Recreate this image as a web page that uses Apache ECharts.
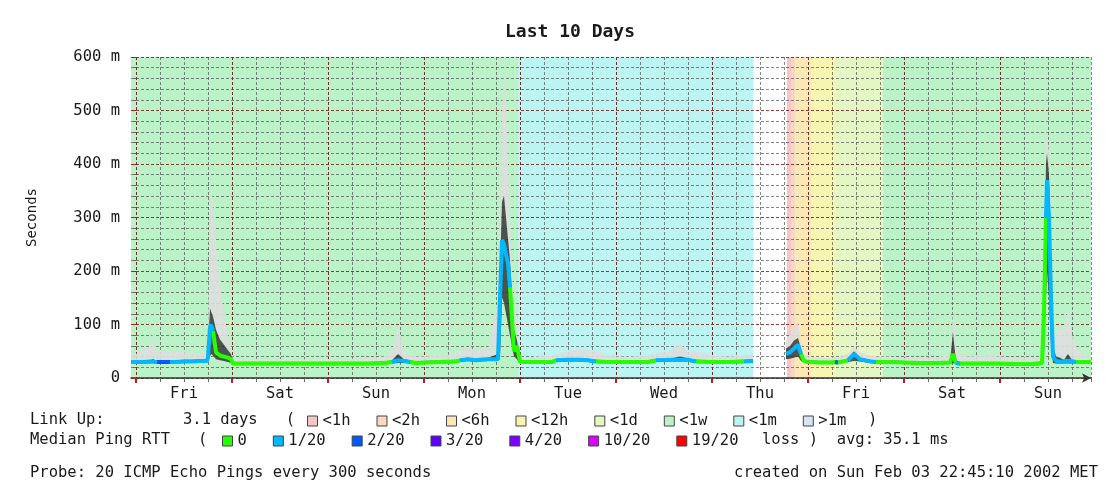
<!DOCTYPE html>
<html>
<head>
<meta charset="utf-8">
<title>Last 10 Days</title>
<script src="https://cdn.jsdelivr.net/npm/echarts@6/dist/echarts.min.js"></script>
<style>
  html, body { margin: 0; padding: 0; background: #fff; }
  #chart { width: 1106px; height: 490px; }
</style>
</head>
<body>
<div id="chart"></div>
<script>
// time in hours, 0 = midnight at the start of the first Friday
var startHour = -1.25;
var endHour = 238.75;
var dayNames = ['Fri', 'Sat', 'Sun', 'Mon', 'Tue', 'Wed', 'Thu', 'Fri', 'Sat', 'Sun'];

var hours = [
  -1.25, 0, 2, 4, 4.25, 4.75, 5.25, 8.5, 10, 12,
  14, 16, 17.75, 18, 18.5, 18.75, 19.25, 20, 21, 22,
  23, 23.75, 24.25, 26, 30, 34, 38, 42, 46, 50,
  54, 58, 62, 64, 65.5, 67, 68.5, 70, 72, 76,
  80, 81, 83, 85, 86, 88, 90.5, 91, 91.5, 92,
  92.5, 93, 93.5, 94, 94.5, 95.25, 96, 97, 100, 104,
  105, 108, 111, 113, 115, 118, 120, 124, 128, 130,
  134, 136, 138, 140, 144, 148, 152, 154.25, 154.5, 162.5,
  163.5, 164.5, 165.5, 166.25, 167, 168, 171, 174, 174.75, 175.5,
  178, 179.5, 181, 183.5, 185, 188, 192, 196, 200, 203.5,
  204.25, 205, 206, 208, 212, 216, 220, 224, 226.5, 227,
  227.5, 227.75, 228.25, 228.75, 229.25, 230, 231, 232, 233, 234,
  235, 236.5, 238.75
];
// median ping RTT in ms
var medianMs = [
  30, 30, 30, 31, 31, 30, 30, 30, 30, 31,
  31, 32, 32, 40, 95, 100, 88, 48, 42, 40,
  38, 35, 27, 27, 27, 27, 27, 27, 27, 27,
  27, 27, 28, 30, 33, 32, 30, 28, 29, 30,
  31, 33, 35, 33, 34, 35, 35, 150, 258, 250,
  230, 215, 170, 110, 50, 60, 30, 30, 30, 30,
  33, 34, 34, 33, 31, 30, 30, 30, 30, 33,
  34, 34, 34, 31, 30, 30, 31, 32, null, 45,
  48, 55, 62, 45, 32, 30, 29, 29, 30, 29,
  33, 45, 35, 31, 30, 30, 29, 28, 28, 29,
  45, 28, 27, 27, 27, 27, 26, 26, 28, 127,
  300, 370, 300, 150, 40, 32, 30, 31, 32, 31,
  30, 30, 30
];
// lost pings out of 20
var lossOf20 = [
  1, 1, 1, 1, 1, 1, 2, 1, 1, 1,
  1, 1, 1, 1, 1, 1, 0, 0, 0, 0,
  0, 0, 0, 0, 0, 0, 0, 0, 0, 0,
  0, 0, 0, 1, 1, 1, 0, 0, 0, 0,
  0, 1, 1, 0, 1, 1, 1, 1, 1, 1,
  1, 1, 0, 0, 0, 0, 0, 0, 0, 0,
  1, 1, 1, 1, 0, 0, 0, 0, 0, 1,
  1, 1, 1, 0, 0, 0, 1, 1, null, 1,
  1, 1, 1, 0, 0, 0, 0, 0, 2, 0,
  1, 1, 1, 1, 0, 0, 0, 0, 0, 0,
  0, 1, 0, 0, 0, 0, 0, 0, 0, 0,
  1, 1, 1, 1, 1, 1, 0, 1, 0, 1,
  0, 0, 0
];
// smoke: fastest ping, upper quartile, slowest ping (ms)
var smokeLow = [
  27, 27, 27, 28, 28, 27, 27, 27, 27, 28,
  28, 29, 29, 30, 40, 45, 42, 35, 33, 32,
  30, 28, 24, 24, 24, 24, 24, 24, 24, 24,
  24, 24, 25, 27, 28, 28, 27, 25, 26, 27,
  28, 30, 32, 30, 31, 32, 32, 40, 150, 140,
  120, 100, 80, 60, 40, 35, 27, 27, 27, 27,
  30, 31, 31, 30, 28, 27, 27, 27, 27, 30,
  31, 31, 31, 28, 27, 27, 28, 29, null, 35,
  36, 38, 40, 32, 29, 27, 26, 26, 27, 26,
  30, 32, 31, 28, 27, 27, 26, 25, 25, 26,
  28, 25, 24, 24, 24, 24, 23, 23, 25, 40,
  150, 200, 150, 60, 28, 27, 26, 27, 27, 27,
  27, 27, 27
];
var smokeMid = [
  33, 33, 33, 34, 36, 33, 33, 33, 33, 34,
  34, 35, 35, 60, 130, 125, 115, 90, 72, 62,
  52, 45, 30, 30, 30, 30, 30, 30, 30, 30,
  30, 30, 31, 33, 45, 35, 33, 31, 32, 33,
  34, 36, 38, 36, 37, 38, 45, 200, 330, 340,
  300, 260, 220, 150, 90, 70, 33, 33, 33, 33,
  36, 37, 37, 36, 34, 33, 33, 33, 33, 36,
  37, 40, 37, 34, 33, 33, 34, 35, null, 55,
  60, 70, 75, 55, 35, 33, 32, 32, 33, 32,
  36, 50, 38, 34, 33, 33, 32, 31, 31, 32,
  85, 31, 30, 30, 30, 30, 29, 29, 31, 200,
  400, 420, 380, 250, 60, 40, 38, 34, 45, 34,
  33, 33, 33
];
var smokeHigh = [
  42, 45, 55, 60, 100, 55, 50, 48, 50, 48,
  46, 45, 50, 90, 300, 360, 330, 250, 180, 120,
  80, 50, 36, 35, 36, 35, 36, 35, 36, 35,
  36, 38, 40, 50, 100, 50, 42, 40, 40, 42,
  45, 50, 58, 52, 55, 52, 150, 300, 500, 570,
  520, 400, 300, 200, 110, 75, 42, 38, 40, 42,
  45, 50, 55, 52, 50, 42, 40, 40, 42, 45,
  52, 65, 48, 50, 42, 40, 42, 42, null, 70,
  80, 95, 105, 65, 45, 40, 38, 38, 40, 38,
  45, 58, 48, 42, 40, 40, 38, 38, 38, 45,
  125, 60, 45, 40, 42, 40, 38, 38, 40, 260,
  440, 464, 420, 300, 90, 80, 100, 85, 130, 80,
  60, 45, 40
];

// uptime background classes
var uptimeNames = ['<1h', '<2h', '<6h', '<12h', '<1d', '<1w', '<1m', '>1m'];
var uptimeColors = ['#f5c6c6', '#f8d8c0', '#fae9b4', '#f7f5b2', '#e3f6c3', '#bbf2c8', '#bbf4f0', '#d6e4f4'];
var uptimeFrom = { '<1w': [-1.25, 186.75], '<1m': [95.5], '<1h': [162.75], '<2h': [163.75], '<6h': [164.75], '<12h': [168.75], '<1d': [174.75] };
var uptimeTo = { '<1w': [95.5, 238.75], '<1m': [154.25], '<1h': [163.75], '<2h': [164.75], '<6h': [168.75], '<12h': [174.75], '<1d': [186.75] };

// median line colours by loss
var lossNames = ['0', '1/20', '2/20', '3/20', '4/20', '10/20', '19/20'];
var lossSteps = [0, 1, 2, 3, 4, 10, 19];
var lossColors = ['#26ff00', '#00b8ff', '#0059ff', '#5e00ff', '#7e00ff', '#dd00ff', '#ff0000'];

var FONT = 'DejaVu Sans Mono';
var gridLeft = 131, gridTop = 57;

var sixHours = [], midnights = [], noons = [];
for (var d = 0; d < dayNames.length; d++) {
  midnights.push(d * 24);
  noons.push(d * 24 + 12);
  for (var q = 0; q < 4; q++) sixHours.push(d * 24 + q * 6);
}
sixHours.push(endHour);

var series = [];

uptimeNames.forEach(function (name, i) {
  var areas = (uptimeFrom[name] || []).map(function (s, k) {
    return [{ xAxis: s }, { xAxis: uptimeTo[name][k] }];
  });
  series.push({
    name: name,
    type: 'line',
    data: [],
    z: 0,
    silent: true,
    itemStyle: { color: uptimeColors[i] },
    lineStyle: { color: uptimeColors[i] },
    markArea: { silent: true, z: 0, itemStyle: { color: uptimeColors[i] }, data: areas }
  });
});

// smoke: one quad per interval between samples
var smokeRows = [];
for (var i = 0; i < hours.length - 1; i++) {
  var row = [hours[i], hours[i + 1], smokeLow[i], smokeLow[i + 1], smokeMid[i], smokeMid[i + 1], smokeHigh[i], smokeHigh[i + 1]];
  if (row.every(function (v) { return v != null; })) smokeRows.push(row);
}

series.push({
  type: 'custom',
  silent: true,
  z: 2,
  data: smokeRows,
  encode: { x: [0, 1], y: [2, 3, 4, 5, 6, 7] },
  renderItem: function (params, api) {
    var x0 = api.value(0), x1 = api.value(1);
    var dark = [api.coord([x0, api.value(2)]), api.coord([x1, api.value(3)]), api.coord([x1, api.value(5)]), api.coord([x0, api.value(4)])];
    var light = [api.coord([x0, api.value(4)]), api.coord([x1, api.value(5)]), api.coord([x1, api.value(7)]), api.coord([x0, api.value(6)])];
    return {
      type: 'group',
      children: [
        { type: 'polygon', shape: { points: light }, style: { fill: 'rgba(222,222,222,0.9)' } },
        { type: 'polygon', shape: { points: dark }, style: { fill: 'rgba(45,45,45,0.8)' } }
      ]
    };
  }
});

lossNames.forEach(function (name, k) {
  var step = lossSteps[k];
  var data = hours.map(function (h, i) {
    if (medianMs[i] == null) return [h, null];
    var on = lossOf20[i] === step || (i > 0 && lossOf20[i - 1] === step && medianMs[i - 1] != null);
    return [h, on ? medianMs[i] : null];
  });
  series.push({
    name: name,
    type: 'line',
    data: data,
    showSymbol: false,
    silent: true,
    z: 3,
    itemStyle: { color: lossColors[k] },
    lineStyle: { color: lossColors[k], width: 4 }
  });
});

var minorGrid = { color: 'rgba(70,70,70,0.65)', type: [3, 2], width: 1 };
var majorGrid = { color: 'rgba(120,30,30,0.85)', type: [3, 2], width: 1 };
var textCol = '#1a1a1a';

var chart = echarts.init(document.getElementById('chart'));
chart.setOption({
  animation: false,
  backgroundColor: '#fff',
  title: {
    text: 'Last 10 Days',
    left: 500, top: 18,
    textStyle: { fontFamily: FONT, fontWeight: 'bold', fontSize: 18, color: textCol }
  },
  grid: { left: gridLeft, right: 15, top: gridTop, bottom: 112 },
  xAxis: [{
    type: 'value', min: startHour, max: endHour, position: 'bottom', z: 1,
    axisLine: { show: true, onZero: false, symbol: ['none', 'arrow'], symbolSize: [7, 9],
      lineStyle: { color: '#333', width: 1.5 } },
    axisTick: { show: true, customValues: sixHours, length: 4, lineStyle: { color: '#666' } },
    axisLabel: { customValues: noons, margin: 8, fontFamily: FONT, fontSize: 15.5, color: textCol,
      formatter: function (v) { return dayNames[Math.floor(v / 24)]; } },
    splitLine: { show: true, lineStyle: minorGrid }
  }, {
    type: 'value', min: startHour, max: endHour, position: 'bottom', z: 1,
    axisLine: { show: false },
    axisTick: { show: true, customValues: midnights, length: 5, lineStyle: { color: '#b02020', width: 2 } },
    axisLabel: { show: false },
    splitLine: { show: true, lineStyle: majorGrid }
  }],
  yAxis: {
    type: 'value', min: 0, max: 600, interval: 100, z: 1,
    name: 'Seconds', nameLocation: 'middle', nameRotate: 90, nameGap: 92,
    nameTextStyle: { fontFamily: FONT, fontSize: 14, color: textCol },
    axisLine: { show: false },
    axisTick: { show: true, length: 4, lineStyle: { color: '#a02020' } },
    minorTick: { show: true, splitNumber: 5, length: 3, lineStyle: { color: '#666' } },
    minorSplitLine: { show: true, lineStyle: minorGrid },
    splitLine: { show: true, lineStyle: majorGrid },
    axisLabel: { margin: 11, fontFamily: FONT, fontSize: 15.5, color: textCol,
      formatter: function (v) { return v === 0 ? '0' : v + ' m'; } }
  },
  legend: [{
    data: uptimeNames, left: 307, top: 413, padding: 0, itemGap: 26,
    itemWidth: 10, itemHeight: 10, icon: 'rect', selectedMode: false,
    itemStyle: { borderColor: '#444', borderWidth: 1 },
    textStyle: { fontFamily: FONT, fontSize: 15.5, color: textCol, lineHeight: 14 }
  }, {
    data: lossNames, left: 222, top: 433, padding: 0, itemGap: 26,
    itemWidth: 10, itemHeight: 10, icon: 'rect', selectedMode: false,
    itemStyle: { borderColor: '#444', borderWidth: 1 },
    textStyle: { fontFamily: FONT, fontSize: 15.5, color: textCol, lineHeight: 14 }
  }],
  graphic: [
    { type: 'text', left: 30, top: 412, style: { text: 'Link Up:', font: '15.5px ' + FONT, fill: textCol } },
    { type: 'text', left: 183, top: 412, style: { text: '3.1 days   (', font: '15.5px ' + FONT, fill: textCol } },
    { type: 'text', left: 868, top: 412, style: { text: ')', font: '15.5px ' + FONT, fill: textCol } },
    { type: 'text', left: 30, top: 432, style: { text: 'Median Ping RTT', font: '15.5px ' + FONT, fill: textCol } },
    { type: 'text', left: 198, top: 432, style: { text: '(', font: '15.5px ' + FONT, fill: textCol } },
    { type: 'text', left: 762, top: 432, style: { text: 'loss )  avg: 35.1 ms', font: '15.5px ' + FONT, fill: textCol } },
    { type: 'text', left: 30, top: 465, style: { text: 'Probe: 20 ICMP Echo Pings every 300 seconds', font: '15.5px ' + FONT, fill: textCol } },
    { type: 'text', right: 8, top: 465, style: { text: 'created on Sun Feb 03 22:45:10 2002 MET', font: '15.5px ' + FONT, fill: textCol } }
  ],
  series: series
});
</script>
</body>
</html>
